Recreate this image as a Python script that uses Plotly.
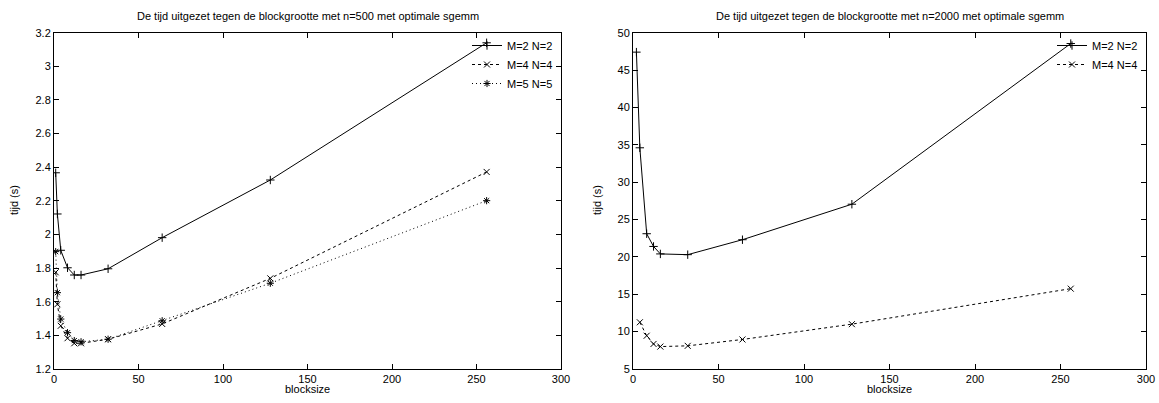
import plotly.graph_objects as go

# ---- data: left panel (n=500) ----
bs_500 = [1, 2, 4, 8, 12, 16, 32, 64, 128, 256]
t500_m2 = [2.367, 2.122, 1.906, 1.802, 1.759, 1.759, 1.796, 1.981, 2.324, 3.14]
t500_m4 = [1.775, 1.585, 1.457, 1.383, 1.353, 1.353, 1.377, 1.468, 1.739, 2.372]
t500_m5 = [1.898, 1.654, 1.497, 1.416, 1.369, 1.362, 1.377, 1.487, 1.710, 2.201]

# ---- data: right panel (n=2000) ----
bs_2000 = [2, 4, 8, 12, 16, 32, 64, 128, 256]
t2000_m2 = [47.4, 34.6, 23.1, 21.4, 20.4, 20.3, 22.3, 27.05, 48.55]
bs_2000_m4 = [4, 8, 12, 16, 32, 64, 128, 256]
t2000_m4 = [11.25, 9.45, 8.35, 8.0, 8.1, 8.95, 11.0, 15.75]

# ---- tick labels ----
x_ticks = [0, 50, 100, 150, 200, 250, 300]
y_ticks_left = [1.2, 1.4, 1.6, 1.8, 2.0, 2.2, 2.4, 2.6, 2.8, 3.0, 3.2]
y_ticklabels_left = ["1.2", "1.4", "1.6", "1.8", "2", "2.2", "2.4", "2.6", "2.8", "3", "3.2"]
y_ticks_right = [5, 10, 15, 20, 25, 30, 35, 40, 45, 50]

titles = ["De tijd uitgezet tegen de blockgrootte met n=500 met optimale sgemm",
          "De tijd uitgezet tegen de blockgrootte met n=2000 met optimale sgemm"]
names = ["M=2 N=2", "M=4 N=4", "M=5 N=5"]

FONT = "Liberation Sans, Arial, sans-serif"
W, H = 1159, 403

def px_x(p):
    return p / W

def px_y(p):
    return 1 - p / H

L_dom = [px_x(54), px_x(561)]
R_dom = [px_x(633), px_x(1146)]
Y_dom = [px_y(369), px_y(32.7)]

fig = go.Figure()

def add(x, y, name, dash, symbol, xa, ya, legend):
    fig.add_trace(go.Scatter(
        x=x, y=y, name=name, mode="lines+markers",
        line=dict(color="black", width=1, dash=dash),
        marker=dict(symbol=symbol, size=6, color="black",
                    line=dict(color="black", width=1)),
        xaxis=xa, yaxis=ya, legend=legend))

add(bs_500, t500_m2, names[0], "solid", "cross-thin-open", "x", "y", "legend")
add(bs_500, t500_m4, names[1], "3px,3px", "x-thin-open", "x", "y", "legend")
add(bs_500, t500_m5, names[2], "1px,3px", "asterisk-open", "x", "y", "legend")
add(bs_2000, t2000_m2, names[0], "solid", "cross-thin-open", "x2", "y2", "legend2")
add(bs_2000_m4, t2000_m4, names[1], "3px,3px", "x-thin-open", "x2", "y2", "legend2")

axis_common = dict(showgrid=False, zeroline=False, showline=True, linecolor="black",
                   linewidth=1, mirror="allticks", ticks="inside", ticklen=5,
                   tickcolor="black", tickwidth=1, automargin=False,
                   tickfont=dict(family=FONT, size=11, color="black"))

leg_common = dict(xanchor="right", yanchor="top", bgcolor="rgba(0,0,0,0)",
                  font=dict(family=FONT, size=11), tracegroupgap=0, itemwidth=30)

fig.update_layout(
    width=W, height=H,
    margin=dict(l=0, r=0, t=0, b=0, autoexpand=False),
    paper_bgcolor="white", plot_bgcolor="white",
    font=dict(family=FONT, size=11, color="black"),
    xaxis=dict(domain=L_dom, range=[0, 300], tickvals=x_ticks, anchor="y", **axis_common),
    yaxis=dict(domain=Y_dom, range=[1.2, 3.2], tickvals=y_ticks_left,
               ticktext=y_ticklabels_left, anchor="x", **axis_common),
    xaxis2=dict(domain=R_dom, range=[0, 300], tickvals=x_ticks, anchor="y2", **axis_common),
    yaxis2=dict(domain=Y_dom, range=[5, 50], tickvals=y_ticks_right, anchor="x2", **axis_common),
    legend=dict(x=px_x(558), y=px_y(31), **leg_common),
    legend2=dict(x=px_x(1143), y=px_y(31), **leg_common),
    showlegend=True,
)

annos = []
for cx, t in [((54 + 561) / 2, titles[0]), ((633 + 1146) / 2, titles[1])]:
    annos.append(dict(text=t, x=px_x(cx), y=px_y(16), xref="paper", yref="paper",
                      showarrow=False, xanchor="center", yanchor="middle",
                      font=dict(family=FONT, size=11)))
    annos.append(dict(text="blocksize", x=px_x(cx), y=px_y(389), xref="paper", yref="paper",
                      showarrow=False, xanchor="center", yanchor="middle",
                      font=dict(family=FONT, size=11)))
for ax_x in [14, 597]:
    annos.append(dict(text="tijd (s)", x=px_x(ax_x), y=px_y(200), xref="paper", yref="paper",
                      showarrow=False, textangle=-90, xanchor="center", yanchor="middle",
                      font=dict(family=FONT, size=11)))
fig.update_layout(annotations=annos)

fig.write_html("out.html", config={"displayModeBar": False},
               post_script="document.body.style.margin='0';document.body.style.overflow='hidden';")
